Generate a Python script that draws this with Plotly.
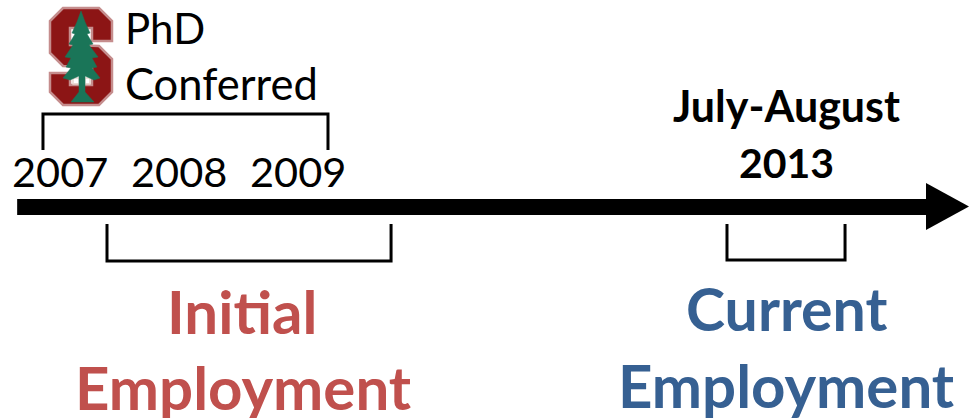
import plotly.graph_objects as go

W, H = 969, 418
FONT = "Lato"

# Timeline content
years = [2007, 2008, 2009]
phd_label = ["PhD", "Conferred"]
phd_span = [2006.857, 2009.252]
initial_span = [2007.395, 2009.782]
current_span = [2012.605, 2013.597]
survey_label = ["July-August", "2013"]
initial_label = ["Initial", "Employment"]
current_label = ["Current", "Employment"]
axis_span = [2006.64, 2014.29]

# Axis calibration: 119 px per year, 2007 at px 60
X0 = 2007 - 60 / 119
X1 = X0 + W / 119


def px(x):
    return X0 + x / 119


def path(points):
    return "M " + " L ".join(f"{px(x):.4f},{y}" for x, y in points) + " Z"


fig = go.Figure()


def line(xs, ys, width, color="#000000"):
    fig.add_trace(go.Scatter(x=xs, y=ys, mode="lines", hoverinfo="skip", showlegend=False,
                             line=dict(color=color, width=width, shape="linear")))


def text(x, y, s, size, color="#000000", bold=False, anchor="center"):
    fig.add_annotation(x=x, y=y, text=f"<b>{s}</b>" if bold else s, showarrow=False,
                       xanchor=anchor, yanchor="middle", align="left",
                       font=dict(family=FONT, size=size, color=color))


# Main arrow
line(axis_span, [207, 207], 16)
fig.add_trace(go.Scatter(x=[px(926), px(969), px(926), px(926)], y=[183, 206.5, 230, 183],
                         mode="lines", fill="toself", fillcolor="#000", hoverinfo="skip",
                         showlegend=False, line=dict(color="#000", width=0)))

# Brackets
line([phd_span[0], phd_span[0], phd_span[1], phd_span[1]], [150, 114, 114, 150], 3)
line([initial_span[0], initial_span[0], initial_span[1], initial_span[1]], [224, 261, 261, 224], 3)
line([current_span[0], current_span[0], current_span[1], current_span[1]], [224, 260, 260, 224], 3)

# Years
for y in years:
    text(y, 171, str(y), 41.5)

# PhD text
text(px(123), 28, phd_label[0], 42, anchor="left")
text(px(123), 83, phd_label[1], 43.5, anchor="left")

# Survey text
text(px(786), 105, survey_label[0], 43, bold=True)
text(px(786), 162, survey_label[1], 41, bold=True)

# Employment labels
RED, BLUE = "#C0504D", "#366092"
text(px(242), 311, initial_label[0], 60, RED, True)
text(px(243), 387, initial_label[1], 60, RED, True)
text(px(786), 308, current_label[0], 59, BLUE, True)
text(px(786), 385, current_label[1], 60, BLUE, True)

# Logo
S = [(63, 8), (99, 8), (112, 21), (112, 41), (92, 41), (92, 28), (70, 28), (70, 45), (99, 46),
     (112, 59), (112, 92), (99, 105), (63, 105), (50, 92), (50, 73), (70, 73), (70, 85), (92, 85),
     (92, 67), (63, 66), (50, 53), (50, 21)]
TREE = [(81, 11), (85, 22), (90, 33), (87, 34), (93, 44), (89, 45), (98, 57), (92, 58), (97, 67),
        (92, 68), (100, 78), (94, 80), (85, 76), (85, 92), (94, 102), (71, 102), (79, 92), (79, 76),
        (70, 80), (63, 78), (71, 68), (66, 67), (71, 58), (65, 57), (73, 45), (69, 44), (75, 34),
        (72, 33), (77, 22)]
shapes = [
    dict(type="path", path=path(S), fillcolor="#8C1515", line=dict(color="#C58D8D", width=2.5), layer="above"),
    dict(type="rect", x0=px(73), x1=px(79), y0=78, y1=84, fillcolor="rgba(0,0,0,0)",
         line=dict(color="#E8D8D0", width=1.5), layer="above"),
    dict(type="rect", x0=px(85), x1=px(90), y0=78, y1=84, fillcolor="rgba(0,0,0,0)",
         line=dict(color="#E8D8D0", width=1.5), layer="above"),
    dict(type="path", path=path(TREE), fillcolor="#1A7558", line=dict(color="#1A7558", width=0.5), layer="above"),
]

fig.update_layout(
    width=W, height=H, margin=dict(l=0, r=0, t=0, b=0), autosize=False,
    paper_bgcolor="#fff", plot_bgcolor="#fff", showlegend=False, shapes=shapes,
    xaxis=dict(range=[X0, X1], visible=False, fixedrange=True),
    yaxis=dict(range=[H, 0], visible=False, fixedrange=True),
)
fig.write_html("out.html", config=dict(displayModeBar=False),
               post_script="document.body.style.margin='0';document.documentElement.style.overflow='hidden';")
